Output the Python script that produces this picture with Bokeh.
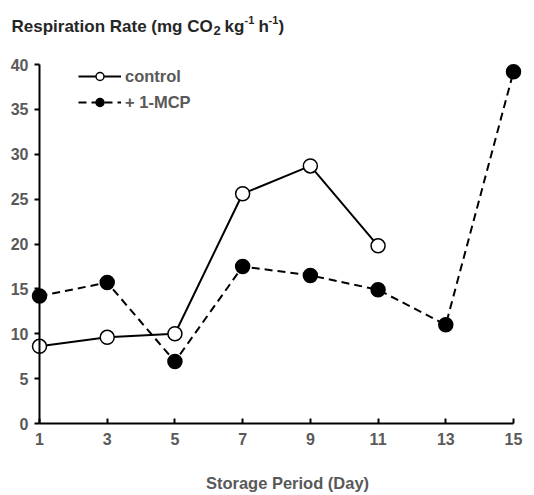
from bokeh.plotting import figure
from bokeh.models import Range1d, FixedTicker, Label, Legend, LegendItem, ColumnDataSource, LinearAxis
from bokeh.embed import file_html
from bokeh.resources import INLINE

days = [1, 3, 5, 7, 9, 11, 13, 15]
control_days = [1, 3, 5, 7, 9, 11]
control = [8.6, 9.6, 10.0, 25.6, 28.7, 19.8]
mcp_days = [1, 3, 5, 7, 9, 11, 13, 15]
mcp = [14.2, 15.7, 6.9, 17.5, 16.5, 14.9, 11.0, 39.2]
y_ticks = [0, 5, 10, 15, 20, 25, 30, 35, 40]

W, H = 534, 495
# pixel positions of the plot area corners (x=1..15, y=0..40)
L, RPX, TPX, BPX = 39, 513, 64, 423
FONT = "Liberation Sans"
GRAY = "#595959"

def dx(px):
    return 1 + (px - L) * 14.0 / (RPX - L)

def dy(py):
    return (BPX - py) * 40.0 / (BPX - TPX)

p = figure(width=W, height=H, output_backend="svg", toolbar_location=None,
           x_range=Range1d(dx(0), dx(W)), y_range=Range1d(dy(H), dy(0)),
           min_border=0, x_axis_location=None, y_axis_location=None)
p.outline_line_color = None
p.xgrid.visible = False
p.ygrid.visible = False
p.background_fill_color = "white"
p.border_fill_color = "white"

xax = LinearAxis(fixed_location=0, ticker=FixedTicker(ticks=days), bounds=(1, 15))
yax = LinearAxis(fixed_location=1, ticker=FixedTicker(ticks=y_ticks), bounds=(0, 40))
for ax in (xax, yax):
    ax.axis_line_color = "black"
    ax.axis_line_width = 2
    ax.major_tick_line_color = "black"
    ax.major_tick_line_width = 2
    ax.minor_tick_line_color = None
    ax.major_label_text_font = FONT
    ax.major_label_text_font_style = "bold"
    ax.major_label_text_font_size = "16px"
    ax.major_label_text_color = GRAY
xax.major_tick_in = 5
xax.major_tick_out = 0
xax.major_label_standoff = 9
yax.major_tick_in = 0
yax.major_tick_out = 5
yax.major_label_standoff = 6
p.add_layout(xax, "below")
p.add_layout(yax, "left")

src_c = ColumnDataSource(dict(x=control_days, y=control))
src_m = ColumnDataSource(dict(x=mcp_days, y=mcp))

lm = p.line("x", "y", source=src_m, line_color="black", line_width=2, line_dash="8 5")
sm = p.scatter("x", "y", source=src_m, size=14, marker="circle", fill_color="black",
               line_color="black", line_width=1.5)
lc = p.line("x", "y", source=src_c, line_color="black", line_width=2)
sc = p.scatter("x", "y", source=src_c, size=14, marker="circle", fill_color="white",
               line_color="black", line_width=1.5)

legend = Legend(items=[LegendItem(label="control", renderers=[lc, sc]),
                       LegendItem(label="+ 1-MCP", renderers=[lm, sm])],
                location=(78, H - 112), glyph_width=43, glyph_height=20, label_standoff=4,
                spacing=6, padding=0, margin=0, background_fill_alpha=0,
                border_line_color=None,
                label_text_font=FONT, label_text_font_style="bold",
                label_text_font_size="16.5px", label_text_color=GRAY)
p.add_layout(legend, "center")

def lab(px, py, txt, size="17px", color="#262626", align="left"):
    p.add_layout(Label(x=dx(px), y=dy(py), text=txt, text_font=FONT, text_font_style="bold",
                       text_font_size=size, text_color=color, text_align=align,
                       text_baseline="alphabetic"))

lab(11, 26, "Respiration Rate (mg CO")
lab(213, 30, "2", size="13px")
lab(224, 26, "kg")
lab(244, 19, "-1", size="11px")
lab(258, 26, "h")
lab(268, 19, "-1", size="11px")
lab(278, 26, ")")

lab(287, 482, "Storage Period (Day)", size="16.5px", color=GRAY, align="center")

open("out.html", "w").write(file_html(p, INLINE))
